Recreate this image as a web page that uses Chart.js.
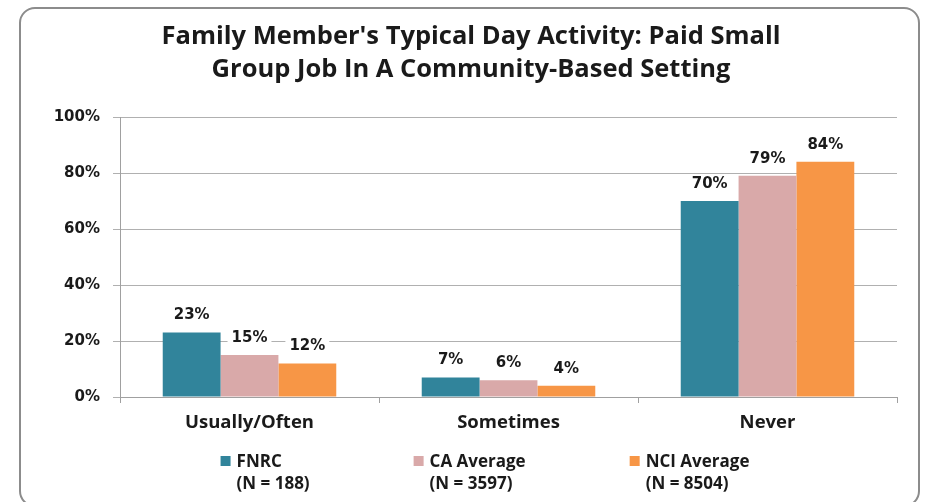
<!DOCTYPE html>
<html>
<head>
<meta charset="utf-8">
<script src="https://cdn.jsdelivr.net/npm/chart.js@4.4.1/dist/chart.umd.min.js"></script>
<style>
  body { margin: 0; background: #fff; }
  #wrap { position: relative; width: 925px; height: 502px; overflow: hidden; }
  #frame {
    position: absolute; left: 19px; top: 7px; width: 901px; height: 500px;
    border: 2px solid #8c8c8c; border-radius: 16px; box-sizing: border-box;
  }
  canvas { position: absolute; left: 0; top: 0; }
</style>
</head>
<body>
<div id="wrap">
  <div id="frame"></div>
  <canvas id="chart" width="925" height="502"></canvas>
</div>
<script>
const categories = ['Usually/Often', 'Sometimes', 'Never'];
const seriesNames = ['FNRC', 'CA Average', 'NCI Average'];
const seriesCounts = ['(N = 188)', '(N = 3597)', '(N = 8504)'];
const fnrc = [23, 7, 70];
const caAverage = [15, 6, 79];
const nciAverage = [12, 4, 84];
const yTicks = [0, 20, 40, 60, 80, 100];
const titleLines = ["Family Member's Typical Day Activity: Paid Small", 'Group Job In A Community-Based Setting'];

const COLORS = ['#31849b', '#d9a9a9', '#f79646'];
const TEXT = '#1a1a1a';
const LABEL_FONT = '"Open Sans", Lato, sans-serif';
const NUM_FONT = '"DejaVu Sans", Verdana, sans-serif';

// title drawn by hand so it can sit a bit right of centre, like the original
const chartTitle = {
  id: 'chartTitle',
  afterDraw(chart) {
    const ctx = chart.ctx;
    ctx.save();
    ctx.font = `bold 25.5px ${LABEL_FONT}`;
    ctx.fillStyle = TEXT;
    ctx.textAlign = 'center';
    ctx.textBaseline = 'middle';
    titleLines.forEach((line, i) => ctx.fillText(line, 471, 37 + i * 33));
    ctx.restore();
  }
};

// value labels with white box behind, like the original
const valueLabels = {
  id: 'valueLabels',
  afterDatasetsDraw(chart) {
    const ctx = chart.ctx;
    ctx.save();
    ctx.font = `bold 15px ${NUM_FONT}`;
    ctx.textAlign = 'center';
    ctx.textBaseline = 'middle';
    chart.data.datasets.forEach((ds, i) => {
      chart.getDatasetMeta(i).data.forEach((bar, j) => {
        const txt = ds.data[j] + '%';
        const w = ctx.measureText(txt).width;
        const y = bar.y - 17;
        ctx.fillStyle = '#fff';
        ctx.fillRect(bar.x - w / 2 - 4, y - 9, w + 8, 18);
        ctx.fillStyle = TEXT;
        ctx.fillText(txt, bar.x, y);
      });
    });
    ctx.restore();
  }
};

// two-line legend below the axis
const bottomLegend = {
  id: 'bottomLegend',
  afterDraw(chart) {
    const ctx = chart.ctx;
    const area = chart.chartArea;
    ctx.save();
    ctx.font = `bold 17px ${LABEL_FONT}`;
    ctx.textBaseline = 'middle';
    const box = 10, gapBox = 6, gapItem = 104;
    const widths = chart.data.datasets.map((ds, i) =>
      box + gapBox + Math.max(ctx.measureText(ds.label).width, ctx.measureText(seriesCounts[i]).width));
    const total = widths.reduce((a, b) => a + b, 0) + gapItem * (widths.length - 1);
    let x = 485 - total / 2;
    const y1 = area.bottom + 65, y2 = area.bottom + 87;
    chart.data.datasets.forEach((ds, i) => {
      ctx.fillStyle = ds.backgroundColor;
      ctx.fillRect(x, y1 - box / 2 - 1, box, box);
      ctx.fillStyle = TEXT;
      ctx.textAlign = 'left';
      ctx.fillText(ds.label, x + box + gapBox, y1);
      ctx.fillText(seriesCounts[i], x + box + gapBox, y2);
      x += widths[i] + gapItem;
    });
    ctx.restore();
  }
};

const seriesData = [fnrc, caAverage, nciAverage];

new Chart(document.getElementById('chart'), {
  type: 'bar',
  data: {
    labels: categories,
    datasets: seriesNames.map((name, i) => ({
      label: name,
      data: seriesData[i],
      backgroundColor: COLORS[i],
      borderWidth: 0,
      categoryPercentage: 0.67,
      barPercentage: 1
    }))
  },
  options: {
    responsive: false,
    animation: false,
    layout: { padding: { left: 0, right: 28, top: 117, bottom: 60 } },
    plugins: {
      legend: { display: false },
      tooltip: { enabled: false },
      title: { display: false }
    },
    scales: {
      x: {
        afterFit: (s) => { s.height = 45; },
        grid: { display: true, drawOnChartArea: false, tickLength: 6, color: '#a0a0a0' },
        border: { color: '#a0a0a0' },
        ticks: { color: TEXT, padding: 9, font: { family: LABEL_FONT, size: 18.5, weight: 'bold' } }
      },
      y: {
        min: 0,
        max: 100,
        afterFit: (s) => { s.width = 120; },
        afterBuildTicks: (s) => { s.ticks = yTicks.map(v => ({ value: v })); },
        grid: { color: '#b0b0b0', tickLength: 7 },
        border: { color: '#a0a0a0' },
        ticks: {
          color: TEXT,
          padding: 13,
          font: { family: NUM_FONT, size: 15, weight: 'bold' },
          callback: (v) => v + '%'
        }
      }
    }
  },
  plugins: [chartTitle, valueLabels, bottomLegend]
});
</script>
</body>
</html>
